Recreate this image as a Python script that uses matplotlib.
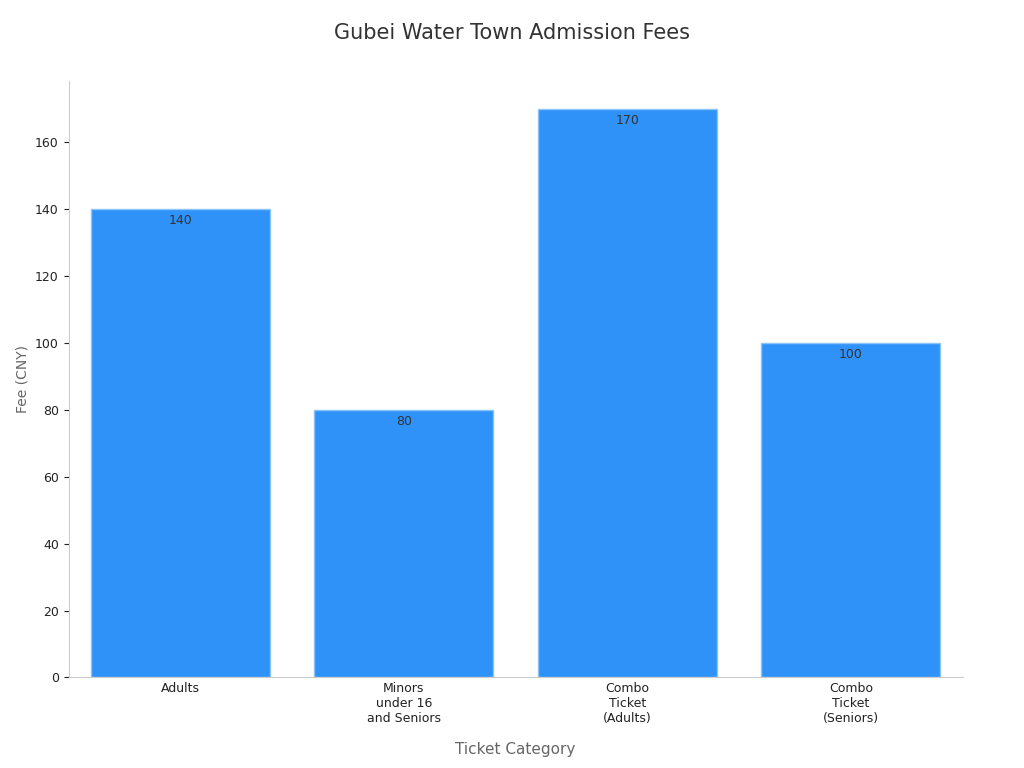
import matplotlib
matplotlib.use("Agg")
import matplotlib.pyplot as plt

categories = ["Adults", "Minors\nunder 16\nand Seniors", "Combo\nTicket\n(Adults)", "Combo\nTicket\n(Seniors)"]
fees = [140, 80, 170, 100]

plt.rcParams['font.family'] = ['DejaVu Sans']
fig, ax = plt.subplots(figsize=(10.24, 7.68), dpi=100)
fig.subplots_adjust(left=0.067, right=0.94, top=0.895, bottom=0.118)
bars = ax.bar(range(len(categories)), fees, width=0.8, color="#2f92f8", edgecolor="#8cc4fa", linewidth=1)
for i, v in enumerate(fees):
    ax.text(i, v - 1.5, str(v), ha="center", va="top", fontsize=9, color="#333333")
ax.set_xticks(range(len(categories)))
ax.set_xticklabels(categories, fontsize=9, color="#222222")
ax.tick_params(axis='y', labelsize=9, colors="#222222")
ax.tick_params(axis='x', length=0)
ax.set_xlim(-0.5, 3.5)
ax.set_ylim(0, 178.5)
ax.set_yticks(range(0, 170, 20))
for s in ["top", "right"]:
    ax.spines[s].set_visible(False)
for s in ["left", "bottom"]:
    ax.spines[s].set_color("#cccccc")
ax.set_xlabel("Ticket Category", fontsize=11, color="#666666", labelpad=12)
ax.set_ylabel("Fee (CNY)", fontsize=10, color="#666666")
fig.suptitle("Gubei Water Town Admission Fees", fontsize=15, color="#333333", y=0.97)
fig.savefig("out.png")
